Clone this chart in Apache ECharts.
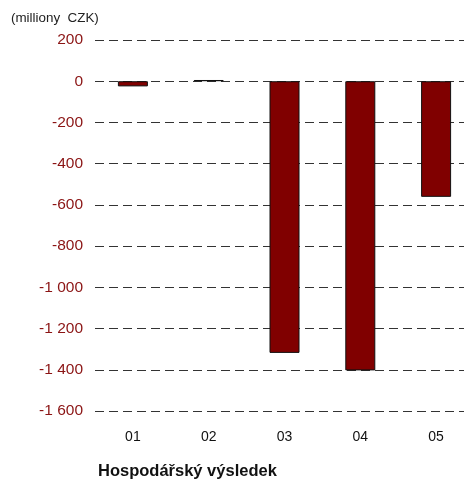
<!DOCTYPE html>
<html>
<head>
<meta charset="utf-8">
<script src="https://cdn.jsdelivr.net/npm/echarts@6/dist/echarts.min.js"></script>
<style>
  html, body { margin: 0; padding: 0; background: #fff; }
  #chart { width: 464px; height: 482px; }
</style>
</head>
<body>
<div id="chart"></div>
<script>
const categories = ['01', '02', '03', '04', '05'];
const values = [-25, 6, -1318, -1403, -561];
const yMin = -1600;
const yMax = 200;
const yStep = 200;

function fmt(v) {
  const s = String(Math.abs(v));
  const t = s.length > 3 ? s.slice(0, s.length - 3) + ' ' + s.slice(-3) : s;
  return v < 0 ? '-' + t : t;
}

const myChart = echarts.init(document.getElementById('chart'));
myChart.setOption({
  animation: false,
  textStyle: { fontFamily: 'Liberation Sans, Arial, sans-serif' },
  grid: { left: 95, right: -10, top: 40, bottom: 71, outerBoundsMode: 'none', containLabel: false },
  graphic: [
    {
      type: 'text', left: 11, top: 12,
      style: { text: '(milliony  CZK)', fontSize: 13.4, fill: '#222', fontFamily: 'Liberation Sans, Arial, sans-serif' }
    },
    {
      type: 'text', left: 98, top: 463,
      style: { text: 'Hospodářský výsledek', fontSize: 16.5, fontWeight: 'bold', fill: '#111', fontFamily: 'Liberation Sans, Arial, sans-serif' }
    }
  ],
  xAxis: {
    type: 'category',
    data: categories,
    axisLine: { show: false },
    axisTick: { show: false },
    axisLabel: { color: '#111', fontSize: 14, margin: 19 }
  },
  yAxis: {
    type: 'value',
    min: yMin,
    max: yMax,
    interval: yStep,
    axisLine: { show: false },
    axisTick: { show: false },
    axisLabel: { color: '#8b1414', fontSize: 15.5, margin: 12, formatter: fmt },
    splitLine: { lineStyle: { color: '#333', type: [9, 5], width: 1 } }
  },
  series: [
    {
      type: 'bar',
      data: values,
      barWidth: 30,
      itemStyle: { color: '#800000', borderColor: '#111', borderWidth: 1 }
    }
  ]
});
</script>
</body>
</html>
